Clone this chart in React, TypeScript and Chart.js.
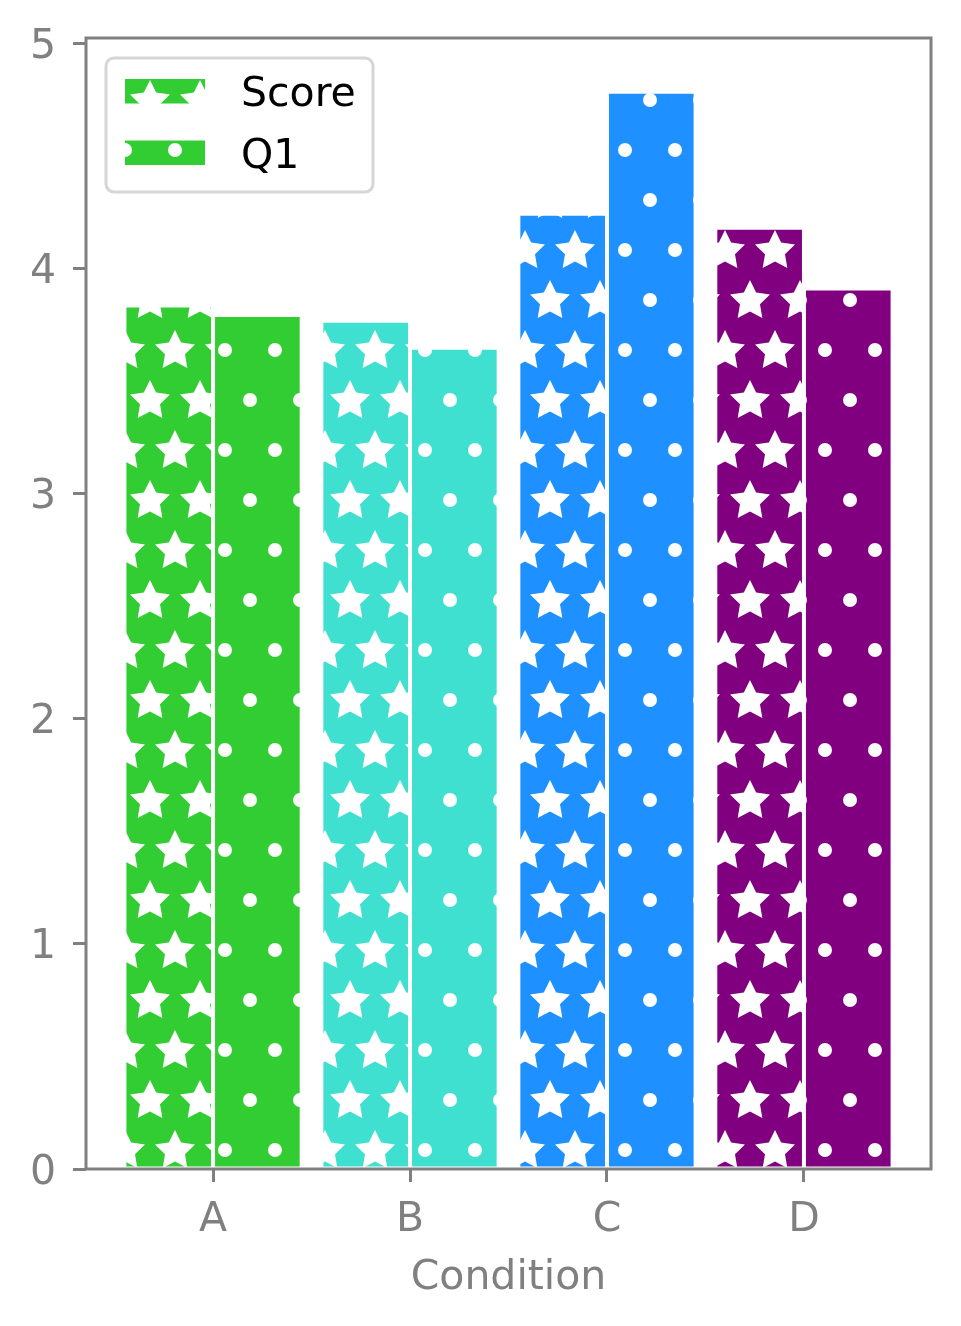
import React, { useEffect, useRef } from 'react';
import { Chart, registerables } from 'chart.js';

Chart.register(...registerables);

const categories = ['A', 'B', 'C', 'D'];
const seriesNames = ['Score', 'Q1'];
const scoreValues = [3.835, 3.767, 4.242, 4.18];
const q1Values = [3.793, 3.647, 4.784, 3.91];
const categoryColors = ['#32CD32', '#40E0D0', '#1E90FF', '#800080'];
const yTickValues = [0, 1, 2, 3, 4, 5];
const xTickValues = [0, 1, 2, 3];
const yAxisMax = 5.023;
const xAxisMin = -0.645;
const xAxisMax = 3.645;
const xTitle = 'Condition';

const FONT = '"DejaVu Sans", sans-serif';
const FS = 41;
const GRAY = '#808080';

function drawStar(c: CanvasRenderingContext2D, cx: number, cy: number, R: number, r: number) {
  c.beginPath();
  for (let i = 0; i < 10; i++) {
    const ang = -Math.PI / 2 + (i * Math.PI) / 5;
    const rad = i % 2 === 0 ? R : r;
    const x = cx + rad * Math.cos(ang);
    const y = cy + rad * Math.sin(ang);
    if (i === 0) c.moveTo(x, y);
    else c.lineTo(x, y);
  }
  c.closePath();
  c.fill();
}

function makePattern(ctx: CanvasRenderingContext2D, color: string, kind: 'star' | 'dot') {
  const t = document.createElement('canvas');
  t.width = 50;
  t.height = 100;
  const c = t.getContext('2d')!;
  c.fillStyle = color;
  c.fillRect(0, 0, 50, 100);
  c.fillStyle = '#ffffff';
  const centers = kind === 'star' ? [[17, 43], [42, 93]] : [[17, 42], [42, 92]];
  for (const [px, py] of centers) {
    for (const dx of [-50, 0, 50]) {
      for (const dy of [-100, 0, 100]) {
        if (kind === 'star') drawStar(c, px + dx, py + dy, 21, 10.5);
        else {
          c.beginPath();
          c.arc(px + dx, py + dy, 7, 0, Math.PI * 2);
          c.fill();
        }
      }
    }
  }
  return ctx.createPattern(t, 'repeat')!;
}

export default function App() {
  const ref = useRef<HTMLCanvasElement | null>(null);

  useEffect(() => {
    const canvas = ref.current!;
    const ctx = canvas.getContext('2d')!;
    const starPatterns = categoryColors.map((col) => makePattern(ctx, col, 'star'));
    const dotPatterns = categoryColors.map((col) => makePattern(ctx, col, 'dot'));
    const legendPatterns = [starPatterns[0], dotPatterns[0]];

    const framePlugin = {
      id: 'frame',
      afterDatasetsDraw(chart: any) {
        const { ctx: g, chartArea: a } = chart;
        g.save();
        g.strokeStyle = GRAY;
        g.lineWidth = 3;
        g.strokeRect(a.left, a.top, a.right - a.left, a.bottom - a.top);
        g.restore();
      },
    };

    const legendPlugin = {
      id: 'customLegend',
      afterDraw(chart: any) {
        const { ctx: g, chartArea: a } = chart;
        const bx = a.left + 20;
        const by = a.top + 20;
        const bw = 267;
        const bh = 134;
        g.save();
        g.beginPath();
        (g as any).roundRect(bx, by, bw, bh, 8);
        g.fillStyle = 'rgba(255,255,255,0.8)';
        g.fill();
        g.strokeStyle = '#d6d6d6';
        g.lineWidth = 3;
        g.stroke();
        const rows = [a.top + 53, a.top + 114.5];
        g.font = `${FS}px ${FONT}`;
        g.textBaseline = 'alphabetic';
        g.textAlign = 'left';
        seriesNames.forEach((name, i) => {
          const cy = rows[i];
          g.fillStyle = legendPatterns[i];
          g.fillRect(a.left + 39, cy - 12, 80, 24.5);
          g.fillStyle = '#000000';
          g.fillText(name, a.left + 155, cy + 15);
        });
        g.restore();
      },
    };

    const chart = new Chart(canvas, {
      type: 'bar',
      data: {
        datasets: [
          {
            label: seriesNames[0],
            data: categories.map((_, i) => ({ x: i, y: scoreValues[i] })),
            backgroundColor: starPatterns,
            borderColor: '#ffffff',
            borderWidth: 2,
            borderSkipped: false,
          },
          {
            label: seriesNames[1],
            data: categories.map((_, i) => ({ x: i, y: q1Values[i] })),
            backgroundColor: dotPatterns,
            borderColor: '#ffffff',
            borderWidth: 2,
            borderSkipped: false,
          },
        ] as any,
      },
      options: {
        responsive: false,
        animation: false,
        devicePixelRatio: 1,
        layout: { padding: { top: 30, right: 22, left: 0, bottom: 0 } },
        datasets: { bar: { categoryPercentage: 0.9, barPercentage: 1.0 } } as any,
        plugins: { legend: { display: false }, tooltip: { enabled: false } },
        scales: {
          x: {
            type: 'linear',
            offset: false,
            min: xAxisMin,
            max: xAxisMax,
            afterBuildTicks: (s: any) => {
              s.ticks = xTickValues.map((v) => ({ value: v }));
            },
            afterFit: (s: any) => {
              s.height = 149;
              s.paddingLeft = 0;
              s.paddingRight = 0;
            },
            grid: {
              offset: false,
              drawOnChartArea: false,
              drawTicks: true,
              tickLength: 13,
              tickWidth: 3,
              tickColor: GRAY,
            },
            border: { display: false },
            ticks: {
              color: GRAY,
              font: { family: FONT, size: FS },
              padding: 14,
              maxRotation: 0,
              autoSkip: false,
              callback: (v: any) => categories[Number(v)] ?? '',
            },
            title: {
              display: true,
              text: xTitle,
              color: GRAY,
              font: { family: FONT, size: FS },
              padding: { top: 0, bottom: 15 },
            },
          },
          y: {
            type: 'linear',
            min: 0,
            max: yAxisMax,
            afterBuildTicks: (s: any) => {
              s.ticks = yTickValues.map((v) => ({ value: v }));
            },
            afterFit: (s: any) => {
              s.width = 78;
              s.paddingTop = 0;
              s.paddingBottom = 0;
            },
            grid: {
              drawOnChartArea: false,
              drawTicks: true,
              tickLength: 13,
              tickWidth: 3,
              tickColor: GRAY,
            },
            border: { display: false },
            ticks: {
              color: GRAY,
              font: { family: FONT, size: FS },
              padding: 17,
              labelOffset: 4,
              callback: (v: any) => String(v),
            },
          },
        },
      } as any,
      plugins: [framePlugin, legendPlugin],
    });

    return () => chart.destroy();
  }, []);

  return (
    <div>
      <canvas ref={ref} width={945} height={1310} style={{ display: 'block' }} />
    </div>
  );
}
